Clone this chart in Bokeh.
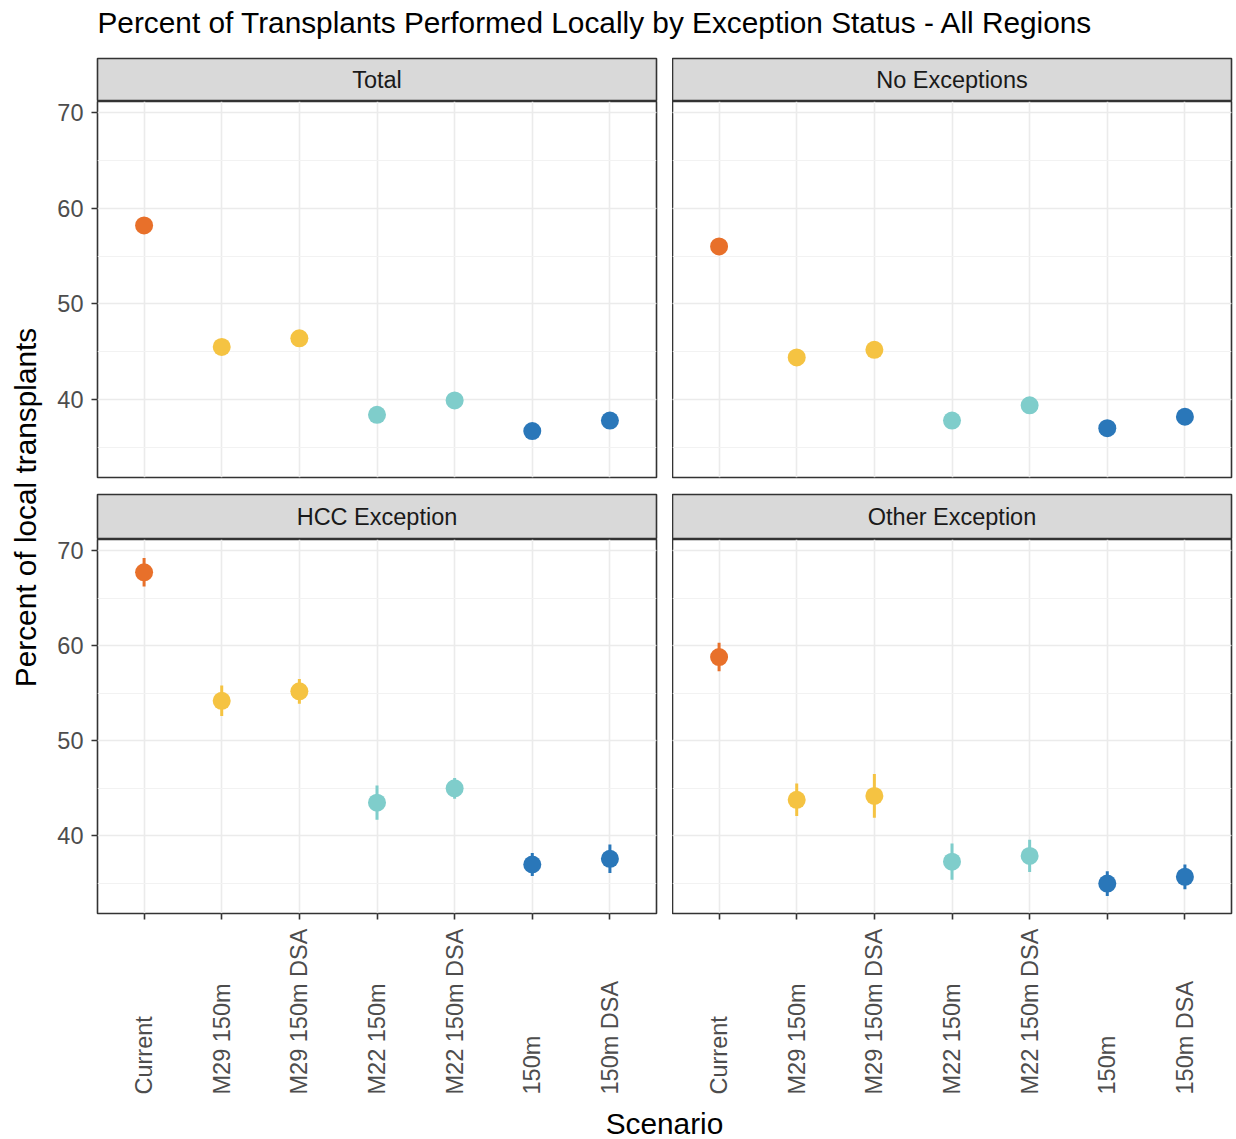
import math
from bokeh.plotting import figure
from bokeh.models import ColumnDataSource, FactorRange, Range1d, SingleIntervalTicker
from bokeh.layouts import row, column
from bokeh.embed import file_html
from bokeh.resources import INLINE
from bokeh.core.properties import value

# ---------------- data ----------------
TITLE = "Percent of Transplants Performed Locally by Exception Status - All Regions"
Y_LABEL = "Percent of local transplants"
X_LABEL = "Scenario"
panels = ["Total", "No Exceptions", "HCC Exception", "Other Exception"]
scenarios = ["Current", "M29 150m", "M29 150m DSA", "M22 150m", "M22 150m DSA", "150m", "150m DSA"]
groups = ["Current", "M29", "M29", "M22", "M22", "150m", "150m"]
group_colors = {"Current": "#E8702A", "M29": "#F5C342", "M22": "#7FCDCB", "150m": "#2A77B9"}

total = [58.2, 45.5, 46.4, 38.4, 39.9, 36.7, 37.8]
total_err = [0.5, 0.6, 0.6, 0.5, 0.6, 0.5, 0.5]
no_exc = [56.0, 44.4, 45.2, 37.8, 39.4, 37.0, 38.2]
no_exc_err = [0.5, 0.7, 0.7, 0.6, 0.6, 0.5, 0.5]
hcc = [67.7, 54.2, 55.2, 43.5, 45.0, 37.0, 37.6]
hcc_err = [1.5, 1.6, 1.3, 1.8, 1.1, 1.2, 1.5]
other = [58.8, 43.8, 44.2, 37.3, 37.9, 35.0, 35.7]
other_err = [1.5, 1.7, 2.3, 1.9, 1.7, 1.3, 1.3]

y_ticks_interval = 10
y_min, y_max = 31.85, 71.15

FONT_NAME = "Liberation Sans"
FONT = value(FONT_NAME)
TICK_SIZE = "23.5px"
STRIP_SIZE = "23.5px"
TITLE_SIZE = "29.8px"

FRAME_W = 559
LEFT_B = 52
GAP = 16
RIGHT_B = 3
YLAB_W = 45


def base_fig(width, height, left, right, top, bottom, x_range, y_range, xloc=None, yloc=None):
    p = figure(width=width, height=height, x_range=x_range, y_range=y_range,
               x_axis_location=xloc, y_axis_location=yloc,
               output_backend="svg", toolbar_location=None,
               min_border_left=left, min_border_right=right,
               min_border_top=top, min_border_bottom=bottom)
    p.border_fill_color = "white"
    p.background_fill_color = "white"
    p.outline_line_color = None
    return p


def text_fig(width, height, left, right, top, bottom):
    p = base_fig(width, height, left, right, top, bottom, Range1d(0, 1), Range1d(0, 1))
    p.xgrid.visible = False
    p.ygrid.visible = False
    return p


def make_panel(vals, errs, is_left, is_bottom):
    width = LEFT_B + FRAME_W + GAP if is_left else FRAME_W + RIGHT_B
    frame_h = 374 if is_bottom else 376
    bb = 10 if is_bottom else GAP
    xr = FactorRange(factors=scenarios, range_padding=0.2 / len(scenarios))
    yr = Range1d(y_min, y_max)
    p = base_fig(width, frame_h + bb, LEFT_B if is_left else 0, GAP if is_left else RIGHT_B, 0, bb,
                 xr, yr, xloc="below" if is_bottom else None, yloc="left" if is_left else None)
    p.outline_line_color = "#333333"
    p.outline_line_width = 1.6
    ticker = SingleIntervalTicker(interval=y_ticks_interval, num_minor_ticks=2)
    p.ygrid.ticker = ticker
    p.ygrid.grid_line_color = "#EBEBEB"
    p.ygrid.grid_line_width = 1.6
    p.ygrid.minor_grid_line_color = "#F2F2F2"
    p.ygrid.minor_grid_line_width = 1
    p.xgrid.grid_line_color = "#EBEBEB"
    p.xgrid.grid_line_width = 1.6
    if is_left:
        ax = p.yaxis[0]
        ax.ticker = ticker
        ax.axis_line_color = None
        ax.major_tick_line_color = "#333333"
        ax.major_tick_line_width = 1.6
        ax.major_tick_out = 6
        ax.major_tick_in = 0
        ax.minor_tick_line_color = None
        ax.major_label_text_font = FONT_NAME
        ax.major_label_text_font_size = TICK_SIZE
        ax.major_label_text_color = "#4D4D4D"
        ax.major_label_standoff = 8
    if is_bottom:
        ax = p.xaxis[0]
        ax.axis_line_color = None
        ax.major_tick_line_color = "#333333"
        ax.major_tick_line_width = 1.6
        ax.major_tick_out = 6
        ax.major_tick_in = 0
        ax.major_label_text_color = None
        ax.major_label_text_font_size = "1px"
        ax.major_label_standoff = 0
    src = ColumnDataSource(dict(
        scenario=scenarios,
        val=vals,
        lo=[v - e for v, e in zip(vals, errs)],
        hi=[v + e for v, e in zip(vals, errs)],
        color=[group_colors[g] for g in groups],
    ))
    p.segment(x0="scenario", y0="lo", x1="scenario", y1="hi", line_color="color",
              line_width=3, source=src)
    p.scatter(x="scenario", y="val", size=18, fill_color="color", line_color=None, source=src)
    return p


def make_strip(label, is_left, height):
    width = LEFT_B + FRAME_W + GAP if is_left else FRAME_W + RIGHT_B
    p = text_fig(width, height, LEFT_B if is_left else 0, GAP if is_left else RIGHT_B, 1, 0)
    p.background_fill_color = "#D9D9D9"
    p.outline_line_color = "#333333"
    p.outline_line_width = 1.6
    p.text(x=[0.5], y=[0.5], text=[label], text_align="center", text_baseline="middle",
           text_font=FONT, text_font_size=STRIP_SIZE, text_color="#1A1A1A")
    return p


def make_labels(xr, is_left):
    width = LEFT_B + FRAME_W + GAP if is_left else FRAME_W + RIGHT_B
    yr = Range1d(0, 1)
    p = base_fig(width, 177, LEFT_B if is_left else 0, GAP if is_left else RIGHT_B, 0, 6, xr, yr)
    p.xgrid.visible = False
    p.ygrid.visible = False
    src = ColumnDataSource(dict(x=scenarios, y=[yr.start] * len(scenarios), t=scenarios))
    p.text(x="x", y="y", text="t", angle=math.pi / 2, text_align="left", text_baseline="middle",
           text_font=FONT, text_font_size=TICK_SIZE, text_color="#4D4D4D", source=src)
    return p


tl = make_panel(total, total_err, True, False)
tr = make_panel(no_exc, no_exc_err, False, False)
bl = make_panel(hcc, hcc_err, True, True)
br = make_panel(other, other_err, False, True)

s_tl = make_strip(panels[0], True, 44)
s_tr = make_strip(panels[1], False, 44)
s_bl = make_strip(panels[2], True, 46)
s_br = make_strip(panels[3], False, 46)

l_bl = make_labels(bl.x_range, True)
l_br = make_labels(br.x_range, False)

full_w = LEFT_B + FRAME_W + GAP + FRAME_W + RIGHT_B

title_fig = text_fig(full_w, 57, LEFT_B, RIGHT_B, 0, 13)
title_fig.text(x=[0], y=[0.5], text=[TITLE], text_align="left", text_baseline="middle",
               text_font=FONT, text_font_size=TITLE_SIZE, text_color="#000000")

scen_fig = text_fig(full_w, 39, LEFT_B, RIGHT_B, 7, 0)
scen_fig.text(x=[0.5], y=[0.5], text=[X_LABEL], text_align="center", text_baseline="middle",
              text_font=FONT, text_font_size=TITLE_SIZE, text_color="#000000")

ylab_fig = text_fig(YLAB_W, 1139, 5, 0, 101, 226)
ylab_fig.text(x=[0.5], y=[0.5], text=[Y_LABEL], angle=math.pi / 2, text_align="center",
              text_baseline="middle", text_font=FONT, text_font_size=TITLE_SIZE,
              text_color="#000000")

main = column(title_fig, row(s_tl, s_tr), row(tl, tr), row(s_bl, s_br), row(bl, br),
              row(l_bl, l_br), scen_fig)
layout = row(ylab_fig, main)

open("out.html", "w").write(file_html(layout, INLINE))
